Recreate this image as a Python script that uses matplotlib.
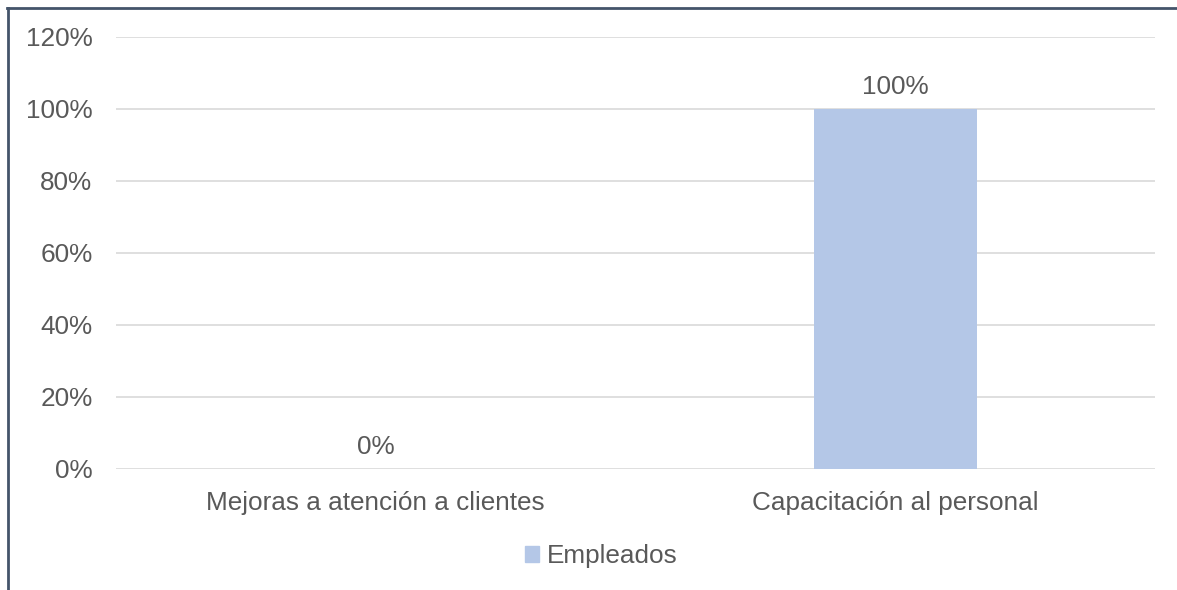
import matplotlib
matplotlib.use("Agg")
import matplotlib.pyplot as plt
from matplotlib.lines import Line2D
from matplotlib.patches import Patch
from matplotlib.ticker import FuncFormatter

categorias = ["Mejoras a atención a clientes", "Capacitación al personal"]
empleados = [0.0, 1.0]
serie = "Empleados"

plt.rcParams['font.family'] = ['Liberation Sans', 'DejaVu Sans']
gris = '#595959'
fs = 18.8

W, H = 1177, 590
fig = plt.figure(figsize=(W / 100, H / 100), dpi=100)
ax = fig.add_axes([116 / W, 1 - 469 / H, (1155 - 116) / W, (469 - 37) / H])

x = range(len(categorias))
barras = ax.bar(x, empleados, width=0.314, color='#B4C7E7', zorder=3)
for xi, v in zip(x, empleados):
    ax.annotate(f"{v:.0%}", (xi, v), xytext=(0, 7), textcoords='offset points',
                ha='center', va='bottom', fontsize=fs, color=gris)

ax.set_xlim(-0.5, 1.5)
ax.set_ylim(0, 1.2)
ax.set_yticks([0, 0.2, 0.4, 0.6, 0.8, 1.0, 1.2])
ax.yaxis.set_major_formatter(FuncFormatter(lambda v, p: f"{v:.0%}"))
ax.set_xticks(list(x))
ax.set_xticklabels(categorias)
ax.tick_params(axis='both', length=0, labelsize=fs, colors=gris)
ax.tick_params(axis='x', pad=16)
ax.tick_params(axis='y', pad=17)
ax.grid(axis='y', color='#D9D9D9', linewidth=1.2, zorder=0)
for s in ax.spines.values():
    s.set_visible(False)

ax.legend(handles=[Patch(color='#B4C7E7', label=serie)], loc='center',
          bbox_to_anchor=(601 / W, 1 - 556 / H), bbox_transform=fig.transFigure,
          frameon=False, fontsize=fs, labelcolor=gris, handlelength=0.55,
          handleheight=0.55, handletextpad=0.3)

# borde del grafico
borde = '#44546A'
fig.add_artist(Line2D([7 / W, 1], [1 - 8 / H, 1 - 8 / H], color=borde, linewidth=2))
fig.add_artist(Line2D([8 / W, 8 / W], [1 - 8 / H, 0], color=borde, linewidth=2))

fig.savefig("out.png", dpi=100)
